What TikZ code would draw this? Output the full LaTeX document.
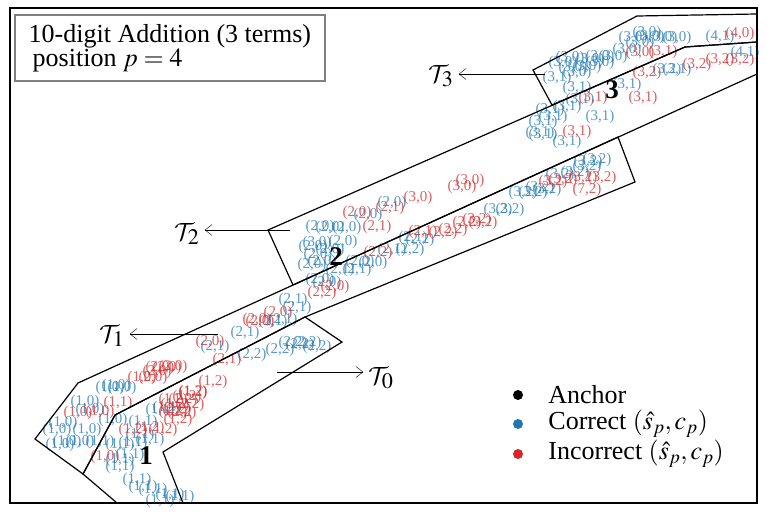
\documentclass[tikz,border=0pt]{standalone}
\usepackage{mathptmx}
\DeclareMathAlphabet{\mathcal}{OMS}{cmsy}{m}{n}
\usepackage{fontspec}
\setmainfont{Liberation Serif}
\usepackage{tikz}
\usetikzlibrary{
arrows.meta,
positioning,
}
\definecolor{tabblue}{RGB}{31,119,180}
\definecolor{tabred}{RGB}{214,39,40}
\tikzset{
x=1pt, y=-1pt,
node distance=1em,
every node/.style={align=center},
correct/.style={text=tabblue, text opacity=0.75, inner sep=0pt, font=\fontsize{15}{15}\selectfont},
incorrect/.style={text=tabred, text opacity=0.75, inner sep=0pt, font=\fontsize{15}{15}\selectfont},
anchornum/.style={inner sep=0pt, font=\fontsize{27}{27}\selectfont\bfseries},
region/.style={draw, line width=1.2pt},
tlabel/.style={inner sep=5pt, font=\fontsize{30}{30}\selectfont},
infobox/.style={draw=gray, line width=1.8pt, fill=white, align=left, font=\fontsize{26}{24}\selectfont},
legenddot/.style={circle, fill, inner sep=0pt, minimum size=10pt},
legendtext/.style={inner sep=0pt, font=\fontsize{26}{26}\selectfont},
>={Straight Barb[length=7pt,width=11pt]},
}

\begin{document}
\begin{tikzpicture}
\useasboundingbox (0,0) rectangle (767,513);
\draw[line width=1.6pt] (10,8) rectangle (757,503);

% correct pairs
\foreach \px/\py/\a/\b [count=\i] in {
    85/402/1/0, 110/388/1/0, 116/386/1/0, 122/388/1/0, 90/410/1/0, 113/420/1/0,
    57/430/1/0, 63/423/1/0, 87/430/1/0, 67/442/1/0, 80/442/1/0, 60/445/1/0,
    100/442/1/1, 120/445/1/1, 133/443/1/1, 140/435/1/1, 120/460/1/1, 120/467/1/1,
    137/480/1/1, 143/487/1/1, 153/490/1/1, 170/495/1/1, 180/497/1/1, 160/501/1/1,
    143/422/1/1, 160/410/1/1, 167/408/1/1, 130/455/1/1, 150/440/1/1,
    215/347/2/1, 245/333/2/1, 252/355/2/2, 280/350/2/2, 293/343/2/2, 307/343/2/2,
    317/347/2/2, 300/345/2/2, 273/322/2/1, 283/320/2/1, 297/308/2/1, 293/300/2/1,
    320/227/2/0, 330/228/2/0, 347/228/2/0, 368/215/2/0, 392/203/2/0, 317/243/3/0,
    343/242/2/0, 313/247/2/0, 312/265/2/0, 322/262/2/0, 360/262/2/0, 373/263/2/0,
    357/270/2/1, 340/270/2/1, 320/280/2/0, 327/283/2/0, 318/255/2/0, 330/250/2/0,
    392/250/2/1, 413/238/2/1, 420/240/2/2, 410/250/2/2,
    498/210/3/2, 510/210/3/2, 523/193/3/2, 533/193/3/2, 547/190/3/2, 560/175/3/2,
    575/173/3/2, 588/162/3/2, 597/160/3/2, 587/167/3/2, 540/188/3/2,
    543/135/3/1, 567/142/3/1, 550/110/3/1, 553/117/3/1, 600/117/3/1, 543/122/3/1,
    540/133/3/1, 577/88/3/1, 627/85/3/1, 580/100/3/1, 567/107/3/1, 557/78/3/1,
    563/63/3/0, 573/68/3/0, 587/67/3/0, 600/63/3/0, 613/57/3/0, 627/50/3/0,
    640/43/3/0, 650/37/3/0, 663/38/3/0, 677/38/3/0, 633/38/3/0, 647/33/3/0,
    577/73/3/0, 600/57/3/0, 590/60/3/0, 570/58/3/0,
    667/70/3/2, 677/70/3/1, 720/37/4/1, 745/53/4/1}
    \node[correct] (c\i) at (\px,\py) {(\a,\b)};

% incorrect pairs
\foreach \px/\py/\a/\b [count=\i] in {
    78/413/1/0, 105/457/1/0, 118/403/1/1, 100/412/1/0, 142/378/1/0,
    153/378/2/0, 160/368/2/0, 173/367/2/0, 157/372/2/0, 167/368/2/0,
    133/430/1/2, 163/430/1/2, 173/400/1/2, 187/397/1/2, 193/392/1/2, 213/382/1/2,
    193/393/1/2, 183/400/1/2, 178/420/1/2, 173/412/1/2, 150/428/1/2, 175/405/1/2,
    182/413/2/2, 177/410/2/2, 190/405/2/2,
    210/342/2/0, 260/322/2/0, 278/313/2/0, 257/320/2/0, 227/360/2/1,
    322/293/2/2, 335/287/2/0, 357/213/2/0, 377/227/2/1, 390/208/2/1,
    418/198/3/0, 462/187/3/0, 470/181/3/0,
    378/253/2/2, 423/232/2/1, 443/233/2/2, 453/230/2/2, 467/223/2/2, 477/220/3/2,
    483/223/3/2, 553/182/3/2, 563/180/3/2, 583/178/3/2, 602/178/3/2, 587/190/7/2,
    577/132/3/1, 593/98/3/1, 643/98/3/1,
    640/53/3/0, 663/52/3/1, 647/73/3/2, 697/65/3/2, 720/60/3/2, 740/60/3/2,
    740/34/4/0}
    \node[incorrect] (w\i) at (\px,\py) {(\a,\b)};

% regions
\draw[region] (83,474) -- (115,415) -- (305,317) -- (342,342) -- (163,452)
    -- (183,503) -- (117,503) -- cycle;
\draw[region] (35,439) -- (78,383) -- (618,137) -- (635,182) -- (305,317)
    -- (115,415) -- (83,474) -- cycle;
\draw[region] (268,230) -- (293,285) -- (757,74) -- (757,42) -- (685,47) -- cycle;
\draw[region] (552,105) -- (533,70) -- (637,16) -- (757,14) -- (757,42)
    -- (685,47) -- cycle;

% anchors
\node[anchornum] (anc1) at (146,456) {1};
\node[anchornum] (anc2) at (336,257) {2};
\node[anchornum] (anc3) at (612,90) {3};

% region labels
\coordinate (t0from) at (277,372);
\coordinate (t1from) at (218,334);
\coordinate (t2from) at (290,230);
\coordinate (t3from) at (545,74);
\node[tlabel] (t0) at (381,378) {$\mathcal{T}_0$};
\node[tlabel] (t1) at (112,336) {$\mathcal{T}_1$};
\node[tlabel] (t2) at (187,234) {$\mathcal{T}_2$};
\node[tlabel] (t3) at (441,76) {$\mathcal{T}_3$};
\draw[->] (t0from) -- (t0from -| t0.west);
\draw[->] (t1from) -- (t1from -| t1.east);
\draw[->] (t2from) -- (t2from -| t2.east);
\draw[->] (t3from) -- (t3from -| t3.east);

\node[infobox, anchor=north west, minimum width=310pt, minimum height=66pt] (info)
    at (14,14) {10-digit Addition (3 terms)\\\hspace{4pt}position $p=4$};

% legend
\node[legenddot, black] (dotanchor) at (518,395) {};
\node[legenddot, tabblue] (dotcorrect) at (518,424) {};
\node[legenddot, tabred] (dotincorrect) at (518,454) {};
\node[legendtext, right=25pt of dotanchor] (txtanchor) {Anchor};
\node[legendtext, right=25pt of dotcorrect] (txtcorrect) {Correct $(\hat{s}_p, c_p)$};
\node[legendtext, right=25pt of dotincorrect] (txtincorrect) {Incorrect $(\hat{s}_p, c_p)$};
\end{tikzpicture}
\end{document}
